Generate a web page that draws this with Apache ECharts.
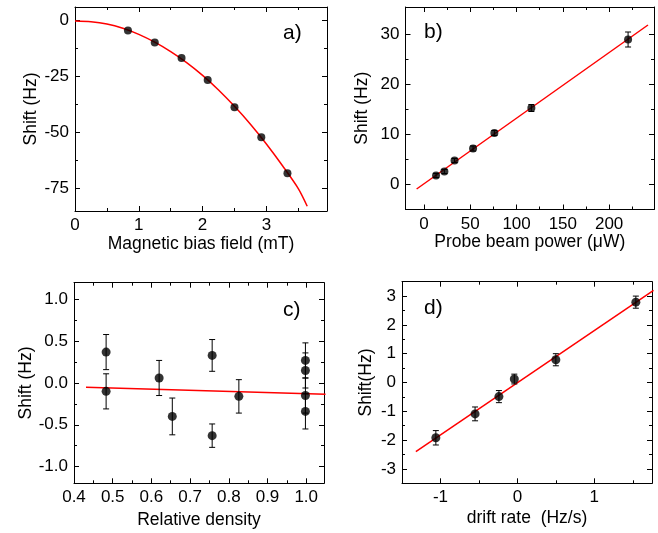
<!DOCTYPE html>
<html>
<head>
<meta charset="utf-8">
<script src="https://cdn.jsdelivr.net/npm/echarts@6/dist/echarts.min.js"></script>
<style>
html,body{margin:0;padding:0;background:#fff;}
#chart{width:658px;height:533px;}
</style>
</head>
<body>
<div id="chart"></div>
<script>
// ---------- DATA ----------
// a) Magnetic bias field
const aX = [0.83, 1.25, 1.67, 2.08, 2.50, 2.92, 3.33];
const aY = [-4.5, -9.8, -16.8, -26.6, -38.7, -52.1, -68.2];
const aFitX = [0, 0.25, 0.5, 0.75, 1.0, 1.25, 1.5, 1.75, 2.0, 2.25, 2.5, 2.75, 3.0, 3.25, 3.5, 3.64];
const aFitY = [-0.3, -0.6, -1.6, -3.5, -6.2, -9.7, -13.9, -18.8, -24.5, -31.0, -38.3, -46.3, -55.1, -64.7, -75.0, -82.9];
const aXTicks = [0, 1, 2, 3];
const aXMinor = [0.5, 1.5, 2.5, 3.5];
const aYTicks = [-75, -50, -25, 0];
const aYMinor = [-62.5, -37.5, -12.5];

// b) Probe beam power
const bX = [13, 22, 33, 53, 76, 116, 220.5];
const bY = [1.8, 2.6, 4.8, 7.2, 10.3, 15.3, 29.0];
const bErr = [0.4, 0.4, 0.4, 0.5, 0.5, 0.7, 1.5];
const bFitX = [-8, 242];
const bFitY = [-0.9, 31.9];
const bXTicks = [0, 50, 100, 150, 200];
const bXMinor = [25, 75, 125, 175, 225];
const bYTicks = [0, 10, 20, 30];
const bYMinor = [5, 15, 25];

// c) Relative density
const cX = [0.483, 0.483, 0.620, 0.654, 0.757, 0.757, 0.826, 0.998, 0.998, 0.998, 0.998];
const cY = [0.37, -0.10, 0.06, -0.40, 0.33, -0.63, -0.16, 0.27, 0.15, -0.15, -0.34];
const cErr = [0.21, 0.21, 0.21, 0.22, 0.19, 0.14, 0.20, 0.21, 0.21, 0.21, 0.21];
const cFitX = [0.431, 1.05];
const cFitY = [-0.051, -0.135];
const cXTicks = [0.4, 0.5, 0.6, 0.7, 0.8, 0.9, 1.0];
const cXMinor = [0.45, 0.55, 0.65, 0.75, 0.85, 0.95];
const cYTicks = [-1.0, -0.5, 0.0, 0.5, 1.0];
const cYMinor = [-0.75, -0.25, 0.25, 0.75];

// d) drift rate
const dX = [-1.06, -0.55, -0.24, -0.04, 0.50, 1.54];
const dY = [-1.92, -1.09, -0.49, 0.12, 0.79, 2.79];
const dErr = [0.25, 0.24, 0.21, 0.17, 0.21, 0.21];
const dFitX = [-1.32, 1.77];
const dFitY = [-2.40, 3.20];
const dXTicks = [-1, 0, 1];
const dXMinor = [-0.5, 0.5, 1.5];
const dYTicks = [-3, -2, -1, 0, 1, 2, 3];
const dYMinor = [-2.5, -1.5, -0.5, 0.5, 1.5, 2.5];

// ---------- BUILD ----------
const FONT = '"Liberation Sans", Arial, Helvetica, sans-serif';
const BLACK = '#000';
const xAxes = [], yAxes = [], series = [], grids = [], graphics = [];

function zip(xs, ys, es) { return xs.map((x, i) => es ? [x, ys[i], es[i]] : [x, ys[i]]); }

function addPanel(p) {
  const g = grids.length;
  grids.push({left: p.box[0], top: p.box[1], width: p.box[2], height: p.box[3], containLabel: false, outerBoundsMode: 'none'});
  const xi = xAxes.length, yi = yAxes.length;
  const lbl = {fontSize: 17, color: BLACK, fontFamily: FONT, margin: 6};
  const nameStyle = {fontSize: 17.5, color: BLACK, fontFamily: FONT};
  xAxes.push({type: 'value', gridIndex: g, min: p.xr[0], max: p.xr[1], position: 'bottom',
    axisLine: {show: true, onZero: false, lineStyle: {color: BLACK, width: 1}},
    axisTick: {show: true, inside: true, length: 5, customValues: p.xt, lineStyle: {color: BLACK}},
    axisLabel: Object.assign({customValues: p.xt, formatter: p.xf}, lbl),
    splitLine: {show: false},
    name: p.xn, nameLocation: 'middle', nameGap: p.xg, nameTextStyle: nameStyle});
  xAxes.push({type: 'value', gridIndex: g, min: p.xr[0], max: p.xr[1], position: 'top',
    axisLine: {show: true, onZero: false, lineStyle: {color: BLACK, width: 1}},
    axisTick: {show: true, inside: true, length: 5, customValues: p.xt, lineStyle: {color: BLACK}},
    axisLabel: {show: false}, splitLine: {show: false}});
  ['bottom', 'top'].forEach(pos => xAxes.push({type: 'value', gridIndex: g, min: p.xr[0], max: p.xr[1], position: pos,
    axisLine: {show: false, onZero: false},
    axisTick: {show: true, inside: true, length: 3, customValues: p.xm, lineStyle: {color: BLACK}},
    axisLabel: {show: false}, splitLine: {show: false}}));
  yAxes.push({type: 'value', gridIndex: g, min: p.yr[0], max: p.yr[1], position: 'left',
    axisLine: {show: true, onZero: false, lineStyle: {color: BLACK, width: 1}},
    axisTick: {show: true, inside: true, length: 5, customValues: p.yt, lineStyle: {color: BLACK}},
    axisLabel: Object.assign({customValues: p.yt, formatter: p.yf}, lbl),
    splitLine: {show: false},
    name: p.yn, nameLocation: 'middle', nameGap: p.yg, nameRotate: 90, nameTextStyle: nameStyle});
  yAxes.push({type: 'value', gridIndex: g, min: p.yr[0], max: p.yr[1], position: 'right',
    axisLine: {show: true, onZero: false, lineStyle: {color: BLACK, width: 1}},
    axisTick: {show: true, inside: true, length: 5, customValues: p.yt, lineStyle: {color: BLACK}},
    axisLabel: {show: false}, splitLine: {show: false}});
  ['left', 'right'].forEach(pos => yAxes.push({type: 'value', gridIndex: g, min: p.yr[0], max: p.yr[1], position: pos,
    axisLine: {show: false, onZero: false},
    axisTick: {show: true, inside: true, length: 3, customValues: p.ym, lineStyle: {color: BLACK}},
    axisLabel: {show: false}, splitLine: {show: false}}));

  series.push({type: 'line', xAxisIndex: xi, yAxisIndex: yi, data: zip(p.fx, p.fy), showSymbol: false,
    smooth: p.smooth || false, clip: true, lineStyle: {color: '#ff0000', width: 1.5}, z: 2, silent: true});
  if (p.err) {
    series.push({type: 'custom', xAxisIndex: xi, yAxisIndex: yi, data: zip(p.x, p.y, p.err), z: 3,
      encode: {x: 0, y: 1},
      renderItem: function (params, api) {
        const x = api.value(0), y = api.value(1), e = api.value(2);
        const t = api.coord([x, y + e]), b = api.coord([x, y - e]);
        const w = 3, st = {stroke: BLACK, lineWidth: 1};
        return {type: 'group', children: [
          {type: 'line', shape: {x1: t[0], y1: t[1], x2: b[0], y2: b[1]}, style: st},
          {type: 'line', shape: {x1: t[0] - w, y1: t[1], x2: t[0] + w, y2: t[1]}, style: st},
          {type: 'line', shape: {x1: b[0] - w, y1: b[1], x2: b[0] + w, y2: b[1]}, style: st}
        ]};
      }});
  }
  series.push({type: 'scatter', xAxisIndex: xi, yAxisIndex: yi, data: zip(p.x, p.y), symbol: 'circle',
    symbolSize: p.ms || 9, itemStyle: {color: BLACK}, z: 4});
  graphics.push({type: 'text', x: p.lab[0], y: p.lab[1], style: {text: p.label, fontSize: 21, fontFamily: FONT, fill: BLACK, textVerticalAlign: 'middle'}});
}

const f1 = v => v.toFixed(1);
const f0 = v => String(Math.round(v));

addPanel({box: [75, 7, 252, 204], xr: [0, 3.95], yr: [-85, 6], xt: aXTicks, xm: aXMinor, yt: aYTicks, ym: aYMinor,
  xf: f0, yf: f0, xn: 'Magnetic bias field (mT)', yn: 'Shift (Hz)', xg: 17, yg: 33,
  x: aX, y: aY, fx: aFitX, fy: aFitY, smooth: 0.3, ms: 8, label: 'a)', lab: [283, 33]});
addPanel({box: [405.5, 7, 248.5, 202.5], xr: [-20, 248.5], yr: [-5, 35.5], xt: bXTicks, xm: bXMinor, yt: bYTicks, ym: bYMinor,
  xf: f0, yf: f0, xn: 'Probe beam power (\u03bcW)', yn: 'Shift (Hz)', xg: 19, yg: 34,
  x: bX, y: bY, err: bErr, fx: bFitX, fy: bFitY, ms: 8, label: 'b)', lab: [424, 32]});
addPanel({box: [74, 282.7, 250, 200.6], xr: [0.4, 1.046], yr: [-1.2, 1.2], xt: cXTicks, xm: cXMinor, yt: cYTicks, ym: cYMinor,
  xf: f1, yf: f1, xn: 'Relative density', yn: 'Shift (Hz)', xg: 28, yg: 39,
  x: cX, y: cY, err: cErr, fx: cFitX, fy: cFitY, ms: 9, label: 'c)', lab: [283, 310]});
addPanel({box: [402, 281.7, 250, 201.6], xr: [-1.5, 1.75], yr: [-3.5, 3.5], xt: dXTicks, xm: dXMinor, yt: dYTicks, ym: dYMinor,
  xf: f0, yf: f0, xn: 'drift rate  (Hz/s)', yn: 'Shift(Hz)', xg: 26, yg: 27,
  x: dX, y: dY, err: dErr, fx: dFitX, fy: dFitY, ms: 9, label: 'd)', lab: [424, 308]});

const chart = echarts.init(document.getElementById('chart'), null, {renderer: 'canvas'});
chart.setOption({
  animation: false,
  backgroundColor: '#fff',
  grid: grids,
  xAxis: xAxes,
  yAxis: yAxes,
  series: series,
  graphic: graphics
});
</script>
</body>
</html>
